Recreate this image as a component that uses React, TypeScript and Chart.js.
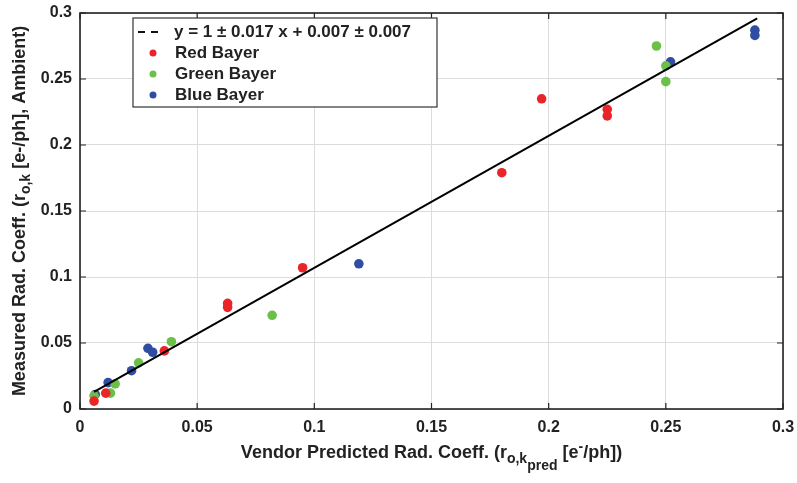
import React, { useEffect, useRef } from "react";
import { Chart, registerables } from "chart.js";

Chart.register(...registerables);

const redX = [0.006, 0.011, 0.036, 0.063, 0.063, 0.095, 0.180, 0.197, 0.225, 0.225];
const redY = [0.006, 0.012, 0.044, 0.080, 0.077, 0.107, 0.179, 0.235, 0.227, 0.222];
const greenX = [0.006, 0.013, 0.015, 0.025, 0.039, 0.082, 0.246, 0.250, 0.250];
const greenY = [0.010, 0.012, 0.019, 0.035, 0.051, 0.071, 0.275, 0.260, 0.248];
const blueX = [0.0065, 0.012, 0.022, 0.029, 0.031, 0.119, 0.252, 0.288, 0.288];
const blueY = [0.011, 0.020, 0.029, 0.046, 0.043, 0.110, 0.263, 0.287, 0.283];
const fitX = [0.006, 0.289];
const fitY = [0.013, 0.296];
const tickValues = [0, 0.05, 0.1, 0.15, 0.2, 0.25, 0.3];
const tickLabels = ["0", "0.05", "0.1", "0.15", "0.2", "0.25", "0.3"];

const fitLabel = "y = 1 \u00b1 0.017 x + 0.007 \u00b1 0.007";
const seriesNames = ["Red Bayer", "Green Bayer", "Blue Bayer"];
const seriesColors = ["#e8262a", "#6cc04a", "#2f4ea3"];

const FONT = '"Liberation Sans", Arial, sans-serif';
const TEXT = "#222";

type Seg = { t: string; s: number };

const yTitle: Seg[] = [
  { t: "Measured Rad. Coeff. (r", s: 0 },
  { t: "o,k", s: 1 },
  { t: " [e-/ph], Ambient)", s: 0 },
];
const xTitle: Seg[] = [
  { t: "Vendor Predicted Rad. Coeff. (r", s: 0 },
  { t: "o,k", s: 1 },
  { t: "pred", s: 2 },
  { t: " [e", s: 0 },
  { t: "-", s: -1 },
  { t: "/ph])", s: 0 },
];

function segFont(s: number, size: number) {
  const sz = s === 0 ? size : Math.round(size * 0.8);
  return `bold ${sz}px ${FONT}`;
}
function segOffset(s: number, size: number) {
  if (s === 1) return size * 0.35;
  if (s === 2) return size * 0.75;
  if (s === -1) return -size * 0.35;
  return 0;
}

function drawRich(ctx: CanvasRenderingContext2D, segs: Seg[], cx: number, cy: number, size: number) {
  let total = 0;
  const widths = segs.map((sg) => {
    ctx.font = segFont(sg.s, size);
    const w = ctx.measureText(sg.t).width;
    total += w;
    return w;
  });
  let x = cx - total / 2;
  ctx.textBaseline = "middle";
  ctx.textAlign = "left";
  segs.forEach((sg, i) => {
    ctx.font = segFont(sg.s, size);
    ctx.fillText(sg.t, x, cy + segOffset(sg.s, size));
    x += widths[i];
  });
}

const decorPlugin = {
  id: "decor",
  afterDraw(chart: any) {
    const { ctx, chartArea: a, scales } = chart;
    const xs = scales.x;
    const ys = scales.y;
    ctx.save();
    ctx.strokeStyle = TEXT;
    ctx.lineWidth = 1.2;
    ctx.beginPath();
    tickValues.forEach((v) => {
      const px = xs.getPixelForValue(v);
      ctx.moveTo(px, a.bottom);
      ctx.lineTo(px, a.bottom - 6);
      ctx.moveTo(px, a.top);
      ctx.lineTo(px, a.top + 6);
      const py = ys.getPixelForValue(v);
      ctx.moveTo(a.left, py);
      ctx.lineTo(a.left + 6, py);
      ctx.moveTo(a.right, py);
      ctx.lineTo(a.right - 6, py);
    });
    ctx.stroke();
    ctx.lineWidth = 1.6;
    ctx.strokeRect(a.left, a.top, a.width, a.height);

    // legend
    const lx = 133, ly = 18, lw = 304, lh = 89;
    ctx.fillStyle = "#fff";
    ctx.fillRect(lx, ly, lw, lh);
    ctx.strokeStyle = "#333";
    ctx.lineWidth = 1.2;
    ctx.strokeRect(lx, ly, lw, lh);
    ctx.fillStyle = TEXT;
    ctx.font = `bold 17px ${FONT}`;
    ctx.textBaseline = "middle";
    ctx.textAlign = "left";
    ctx.strokeStyle = "#111";
    ctx.lineWidth = 2;
    ctx.setLineDash([7, 6]);
    ctx.beginPath();
    ctx.moveTo(138, 32);
    ctx.lineTo(164, 32);
    ctx.stroke();
    ctx.setLineDash([]);
    ctx.fillText(fitLabel, 174, 32);
    seriesNames.forEach((nm, i) => {
      const yy = 53 + i * 21;
      ctx.fillStyle = seriesColors[i];
      ctx.beginPath();
      ctx.arc(153, yy, 3.5, 0, Math.PI * 2);
      ctx.fill();
      ctx.fillStyle = TEXT;
      ctx.fillText(nm, 175, yy);
    });

    ctx.fillStyle = TEXT;
    drawRich(ctx, xTitle, (a.left + a.right) / 2, 453, 18);
    ctx.save();
    ctx.translate(20, (a.top + a.bottom) / 2);
    ctx.rotate(-Math.PI / 2);
    drawRich(ctx, yTitle, 0, 0, 18);
    ctx.restore();
    ctx.restore();
  },
};

function pts(xs: number[], ys: number[]) {
  return xs.map((x, i) => ({ x, y: ys[i] }));
}

export default function App() {
  const ref = useRef<HTMLCanvasElement>(null);
  useEffect(() => {
    if (!ref.current) return;
    const tickFont = { family: FONT, size: 16, weight: "bold" as const };
    const fmt = (v: any) => {
      const i = tickValues.findIndex((t) => Math.abs(t - Number(v)) < 1e-9);
      return i >= 0 ? tickLabels[i] : "";
    };
    const chart = new Chart(ref.current, {
      type: "scatter",
      data: {
        datasets: [
          {
            type: "line",
            label: fitLabel,
            data: pts(fitX, fitY),
            borderColor: "#000",
            borderWidth: 2,
            pointRadius: 0,
            fill: false,
            order: 0,
          } as any,
          ...seriesNames.map((nm, i) => ({
            label: nm,
            data: pts([redX, greenX, blueX][i], [redY, greenY, blueY][i]),
            backgroundColor: seriesColors[i],
            borderColor: seriesColors[i],
            pointRadius: 4.8,
            borderWidth: 0,
            order: 1,
          })),
        ],
      },
      options: {
        animation: false,
        responsive: false,
        layout: { padding: { left: 0, right: 14, top: 13, bottom: 0 } },
        plugins: { legend: { display: false }, tooltip: { enabled: false } },
        scales: {
          x: {
            type: "linear",
            min: 0,
            max: 0.3,
            afterBuildTicks: (s: any) => {
              s.ticks = tickValues.map((v) => ({ value: v }));
            },
            afterFit: (s: any) => {
              s.height = 74;
              s.paddingLeft = 0;
              s.paddingRight = 0;
            },
            grid: { color: "#dcdcdc", drawTicks: false, lineWidth: 1 },
            border: { display: false },
            ticks: { font: tickFont, color: TEXT, padding: 9, maxRotation: 0, callback: fmt },
          },
          y: {
            type: "linear",
            min: 0,
            max: 0.3,
            afterBuildTicks: (s: any) => {
              s.ticks = tickValues.map((v) => ({ value: v }));
            },
            afterFit: (s: any) => {
              s.width = 80;
              s.paddingTop = 0;
              s.paddingBottom = 0;
            },
            grid: { color: "#dcdcdc", drawTicks: false, lineWidth: 1 },
            border: { display: false },
            ticks: { font: tickFont, color: TEXT, padding: 8, callback: fmt },
          },
        },
      },
      plugins: [decorPlugin],
    });
    return () => chart.destroy();
  }, []);
  return (
    <div style={{ position: "fixed", left: 0, top: 0, width: 797, height: 483, background: "#fff" }}>
      <canvas ref={ref} width={797} height={483} style={{ width: 797, height: 483 }} />
    </div>
  );
}
